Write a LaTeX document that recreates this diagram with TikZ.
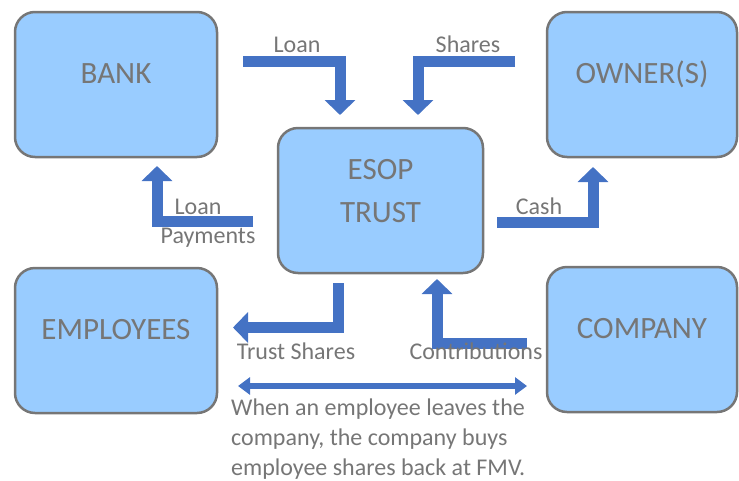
\documentclass[tikz,border=0pt]{standalone}
\usepackage{fontspec}
\setmainfont{Carlito}
\usepackage{xcolor}
\usepackage{tikz}
\usetikzlibrary{arrows.meta}
\definecolor{boxfill}{HTML}{99CCFF}
\definecolor{boxline}{HTML}{767676}
\definecolor{flowblue}{HTML}{4472C4}
\definecolor{inkgray}{HTML}{767676}
\begin{document}
\begin{tikzpicture}[x=1pt,y=-1pt,
   party/.style={rectangle,rounded corners=20pt,draw=boxline,fill=boxfill,line width=2.5pt,
      minimum width=202pt,minimum height=145pt,text=inkgray,align=center,
      font=\fontsize{31}{43}\selectfont,text height=20pt,text depth=23pt},
   flow/.style={draw=flowblue,line width=11pt,line join=miter,-{Triangle[width=30pt,length=15pt]}},
   both/.style={draw=flowblue,line width=6pt,{Triangle[width=17pt,length=12pt]}-{Triangle[width=17pt,length=12pt]}},
   tag/.style={text=inkgray,font=\fontsize{24}{30}\selectfont,inner sep=0pt,anchor=base}]
   \useasboundingbox (0,0) rectangle (739,480);
   % the five parties
   \node[party] (B) at (116,84.5) {BANK};
   \node[party,minimum width=190pt] (O) at (642,84.5) {OWNER(S)};
   \node[party,minimum width=205pt,text height=63pt,text depth=20pt] (T) at (380.5,200.5) {ESOP\\TRUST};
   \node[party] (E) at (116,340.5) {EMPLOYEES};
   \node[party,minimum width=190pt] (C) at (642,339.5) {COMPANY};
   % arrow ends
   \coordinate (loanA) at (243,61);      \coordinate (loanB) at (340,115);
   \coordinate (sharesA) at (515,61);    \coordinate (sharesB) at (418,115);
   \coordinate (payA) at (253,221);      \coordinate (payB) at (157,166);
   \coordinate (cashA) at (497,222);     \coordinate (cashB) at (593,167);
   \coordinate (trustA) at (338.5,283);  \coordinate (trustB) at (233,327.5);
   \coordinate (contribA) at (527,343);  \coordinate (contribB) at (437,279);
   \coordinate (buyA) at (238,386);      \coordinate (buyB) at (527,386);
   \draw[flow] (loanA) -| (loanB);
   \draw[flow] (sharesA) -| (sharesB);
   \draw[flow] (payA) -| (payB);
   \draw[flow] (cashA) -| (cashB);
   \draw[flow] (trustA) |- (trustB);
   \draw[flow] (contribA) -| (contribB);
   \draw[both] (buyA) -- (buyB);
   % labels
   \node[tag] (loan) at (297,52) {Loan};
   \node[tag] (shares) at (468,52) {Shares};
   \node[tag] (pay1) at (198,214) {Loan};
   \node[tag] (pay2) at (208,243) {Payments};
   \node[tag] (cash) at (539,214) {Cash};
   \node[tag] (trust) at (296,359) {Trust Shares};
   \node[tag] (contrib) at (476,359) {Contributions};
   \node[tag,anchor=north west,align=left] (note) at (231,398.5)
      {When an employee leaves the\\company, the company buys\\employee shares back at FMV.};
\end{tikzpicture}
\end{document}
